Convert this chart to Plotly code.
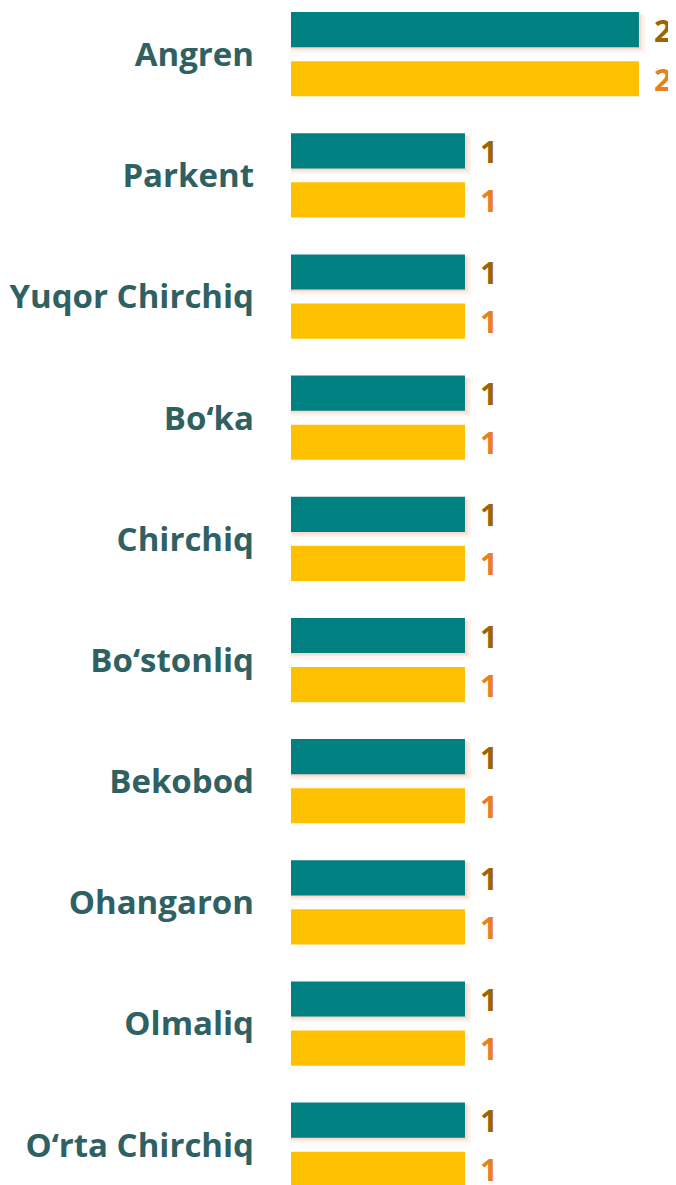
import plotly.graph_objects as go

categories = ["Angren", "Parkent", "Yuqor Сhirchiq", "Bo‘ka", "Chirchiq",
              "Bo‘stonliq", "Bekobod", "Ohangaron", "Olmaliq", "O‘rta Сhirchiq"]
series_a = [2, 1, 1, 1, 1, 1, 1, 1, 1, 1]
series_b = [2, 1, 1, 1, 1, 1, 1, 1, 1, 1]

TEAL = "#008080"
GOLD = "#FFC000"
LAB_A = "#9C6500"
LAB_B = "#E8801E"
CAT_COLOR = "#2F6163"

idx = list(range(len(categories)))
ya = [i - 0.205 for i in idx]
yb = [i + 0.200 for i in idx]
W = 0.29

fig = go.Figure()

# soft shadow under teal bars
for dx, dy, extra, alpha in [(0.035, 0.035, 0.02, 0.10), (0.02, 0.02, 0.01, 0.14), (0.01, 0.012, 0.0, 0.18)]:
    fig.add_trace(go.Bar(
        x=[v + dx for v in series_a], y=[p + dy for p in ya], orientation="h",
        width=W + extra, marker=dict(color=f"rgba(240,150,110,{alpha})", line=dict(width=0)),
        hoverinfo="skip", showlegend=False))

fig.add_trace(go.Bar(x=series_a, y=ya, orientation="h", width=W,
                     marker=dict(color=TEAL, line=dict(width=0)), showlegend=False))
fig.add_trace(go.Bar(x=series_b, y=yb, orientation="h", width=W,
                     marker=dict(color=GOLD, line=dict(width=0)), showlegend=False))

annotations = []
for v, p in zip(series_a, ya):
    annotations.append(dict(x=v, y=p, text=str(v), xanchor="left", yanchor="middle",
                            xshift=13, showarrow=False,
                            font=dict(family="Open Sans", size=31, color=LAB_A, weight="bold")))
for v, p in zip(series_b, yb):
    annotations.append(dict(x=v, y=p, text=str(v), xanchor="left", yanchor="middle",
                            xshift=13, showarrow=False,
                            font=dict(family="Open Sans", size=31, color=LAB_B, weight="bold")))

fig.update_layout(
    width=676, height=1177,
    margin=dict(l=283, r=8, t=0, b=0),
    barmode="overlay",
    plot_bgcolor="white", paper_bgcolor="white",
    annotations=annotations,
    xaxis=dict(range=[0, 2.213], visible=False, fixedrange=True),
    yaxis=dict(range=[9.33, -0.384], tickvals=idx, ticktext=categories,
               showgrid=False, zeroline=False, showline=False, ticks="",
               ticklabelstandoff=36,
               tickfont=dict(family="Open Sans", size=33, color=CAT_COLOR, weight="bold")),
)

fig.write_html("out.html")
